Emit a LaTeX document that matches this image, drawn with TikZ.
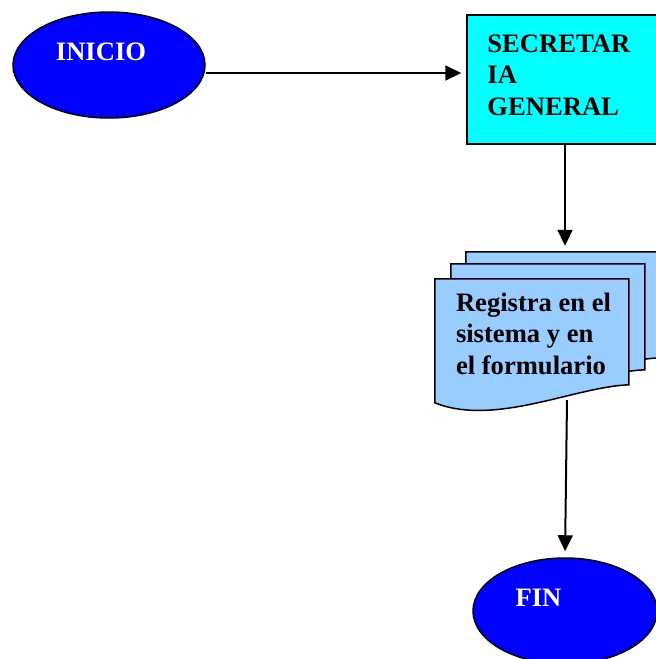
\documentclass[tikz,border=0pt]{standalone}
\usepackage{fontspec}
\setmainfont{Liberation Serif}
\usetikzlibrary{shapes.geometric,arrows.meta}
\definecolor{startblue}{RGB}{0,0,255}
\definecolor{deskcyan}{RGB}{0,255,255}
\definecolor{docblue}{RGB}{153,204,255}

\begin{document}
\begin{tikzpicture}[x=1pt, y=-1pt,
    terminal/.style = {draw, ellipse, line width=1.5pt, fill=startblue, minimum width=192pt, minimum height=106pt, inner sep=0pt},
    office/.style = {draw, rectangle, line width=1.5pt, fill=deskcyan, minimum width=196pt, minimum height=129pt, inner sep=0pt},
    frame/.style = {rectangle, minimum width=194pt, minimum height=121pt, inner sep=0pt},
    txt/.style = {font=\fontsize{26.6}{31.5}\selectfont\bfseries, inner sep=0pt, align=left},
    whitetxt/.style = {txt, text=white},
    sheet/.style = {draw, line width=1.5pt, fill=docblue},
    flow/.style = {-{Triangle[length=16pt,width=15pt]}, line width=2pt},
    docsheet/.pic = {\path[sheet] (0,0) -- (194,0) -- (194,106) .. controls (140,108) and (60,148) .. (0,124) -- cycle;}]
      \useasboundingbox (0,0) rectangle (656,659);
      \clip (0,0) rectangle (656,659);

      \node[terminal] (inicio) at (109,65) {};
      \node[office] (sec) at (565,79.5) {};
      \node[frame] (reg) at (532,339.5) {};
      \node[terminal, minimum width=184pt] (fin) at (565,611) {};
      \coordinate (stack top) at ([yshift=27pt]reg.north);

      % pile of documents
      \pic at ([shift={(31,-27)}]reg.north west) {docsheet};
      \pic at ([shift={(16,-15)}]reg.north west) {docsheet};
      \pic at (reg.north west) {docsheet};

      \node[whitetxt] (inicio txt) at ([shift={(-8,-13)}]inicio.center) {INICIO};
      \node[txt, anchor=north west] (sec txt) at ([shift={(21,20)}]sec.north west) {SECRETAR\\IA\\GENERAL};
      \node[txt, anchor=north west] (reg txt) at ([shift={(21,14)}]reg.north west) {Registra en el\\sistema y en\\el formulario};
      \node[whitetxt] (fin txt) at ([shift={(-26.5,-13)}]fin.center) {FIN};

      \draw[flow, shorten >=5pt] ([yshift=-8pt]inicio.east) -- ([yshift=-8pt]inicio.east -| sec.west);
      \draw[flow, shorten >=6pt] (sec) -- (sec.south |- stack top);
      \draw[flow, shorten >=6pt] ([xshift=35pt]reg.south) -- (fin.north);
    \end{tikzpicture}
\end{document}
